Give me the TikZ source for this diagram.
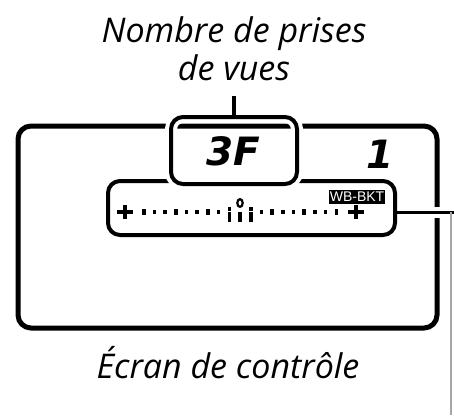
\documentclass[tikz,border=0pt]{standalone}
\usepackage{fontspec}
\setmainfont{Open Sans}
\newfontfamily\lcdfont{DejaVu Sans}
\newfontfamily\tagfont{Liberation Sans}
\usetikzlibrary{positioning}

\begin{document}
\begin{tikzpicture}[x=1pt, y=-1pt,
    frame/.style   = {draw, line width=5pt, rounded corners=13pt, inner sep=0pt,
                      minimum width=419pt, minimum height=202pt},
    panel/.style   = {draw, line width=4pt, rounded corners=12pt, inner sep=0pt},
    halo/.style    = {preaction={draw=white, line width=12pt}},
    lead/.style    = {line width=3pt},
    caption/.style = {font=\itshape\fontsize{34}{38}\selectfont, align=center, inner sep=0pt},
    lcd/.style     = {font=\lcdfont\bfseries\itshape\fontsize{39}{39}\selectfont, inner sep=0pt},
    tag/.style     = {fill=black, text=white, font=\tagfont\fontsize{14}{14}\selectfont,
                      inner sep=1pt, minimum width=53pt, minimum height=14pt},
]
\useasboundingbox (0,0) rectangle (454,415);

%% ---------- captions ----------
\node[caption, anchor=base] (nbr) at (234,80) {Nombre de prises\\de vues};
\node[caption, anchor=base] (ecran) at (228,378) {Écran de contrôle};

%% ---------- control panel ----------
\node[frame] (screen) at (227.5,227) {};
\node[panel, minimum width=287pt, minimum height=54pt] (meter) at (251.5,208) {};
\node[panel, halo, minimum width=126pt, minimum height=67pt] (count) at (234,150.5) {};

\node[lcd] (shots) at (233,151) {3F};
\node[lcd] (frames) at (380,154) {1};
\node[tag] (wbbkt) at (357,197) {WB-BKT};

%% ---------- bracketing scale ----------
\draw[line width=3.5pt] (117,212) -- (133,212) (125,205) -- (125,219);
\draw[line width=3.5pt] (348,212) -- (364,212) (356,205) -- (356,219);
\foreach \k in {-9,...,9} {
  \pgfmathsetmacro{\tx}{240+10.7*\k}
  \pgfmathtruncatemacro{\m}{abs(\k)}
  \ifcase\m
    \draw[line width=2.2pt] (\tx,203) ellipse (2.7 and 3.9);
    \fill (\tx-1.8,212) rectangle ++(3.6,9.5);
  \or
    \fill (\tx-1.8,207.2) rectangle ++(3.6,3.6);
    \fill (\tx-1.8,212) rectangle ++(3.6,9.5);
  \or
    \fill (\tx-1.8,210.2) rectangle ++(3.6,3.6);
  \or
    \fill (\tx-1.8,208.8) rectangle ++(3.6,6.4);
  \or
    \fill (\tx-1.8,210.2) rectangle ++(3.6,3.6);
  \or
    \fill (\tx-1.8,210.2) rectangle ++(3.6,3.6);
  \or
    \fill (\tx-1.8,208.8) rectangle ++(3.6,6.4);
  \or
    \fill (\tx-1.8,210.2) rectangle ++(3.6,3.6);
  \or
    \fill (\tx-1.8,210.2) rectangle ++(3.6,3.6);
  \or
    \fill (\tx-1.8,208.8) rectangle ++(3.6,6.4);
  \fi
}

%% ---------- leaders ----------
\coordinate (nbrfoot) at (234,96);
\draw[line width=4pt] (nbrfoot) -- (count.north);

\coordinate (tap) at (451,212);
\draw[white, line width=11pt] ([xshift=-7pt]screen.east |- tap) -- ([xshift=7pt]screen.east |- tap);
\draw[lead] (meter.east |- tap) -- ([xshift=3pt]tap);
\draw[line width=1.5pt, gray!70] (tap) -- (tap |- 0,415);

\end{tikzpicture}
\end{document}
